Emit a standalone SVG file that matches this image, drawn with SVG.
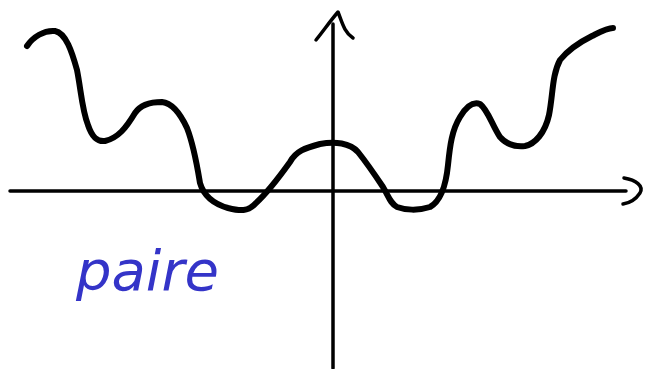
<svg xmlns="http://www.w3.org/2000/svg" width="647" height="369" viewBox="0 0 647 369">
<style>
.ax{fill:none;stroke:#000;stroke-width:3.5;stroke-linecap:round;stroke-linejoin:round}
.cv{fill:none;stroke:#000;stroke-width:6;stroke-linecap:round;stroke-linejoin:round}
.lbl{font-family:"DejaVu Sans","Liberation Sans",sans-serif;font-style:italic;font-size:56px;fill:#3434c8}
</style>
<rect width="647" height="369" fill="#fff"/>
<g id="axes">
<path class="ax" d="M10,191 L626,191"/>
<path class="ax" d="M624,178 C636,180 644,186 640,193 C636,199 630,203 623,204"/>
<path class="ax" d="M333,368 L333,24"/>
<path class="ax" d="M316,40 C324,30 331,20 338,12 C342,22 344,32 353,38"/>
</g>
<g id="curve">
<path class="cv" d="M27,46 C33,37 44,30 55,31 C66,33 72,52 77,70 C81,90 82,110 88,125 C92,137 97,142 105,141 C118,138 126,128 135,113 C141,104 152,102 162,102 C172,103 180,113 187,128 C194,146 197,165 200,183 C204,197 214,204 228,208 C240,211 248,212 256,203 C268,192 280,176 290,162 C296,151 305,148 320,144 C335,141 350,143 358,152 C366,162 375,175 383,187 C389,197 390,203 397,207 C405,210 418,211 430,207 C441,201 446,185 448,165 C450,145 452,130 460,117 C466,107 472,101 480,104 C488,110 492,125 500,137 C507,145 515,147 525,146 C535,144 545,133 549,115 C553,95 552,75 560,60 C568,50 580,42 592,36 C600,32 607,28 613,28"/>
</g>
<g id="label">
<text class="lbl" x="76" y="290">paire</text>
</g>
</svg>
